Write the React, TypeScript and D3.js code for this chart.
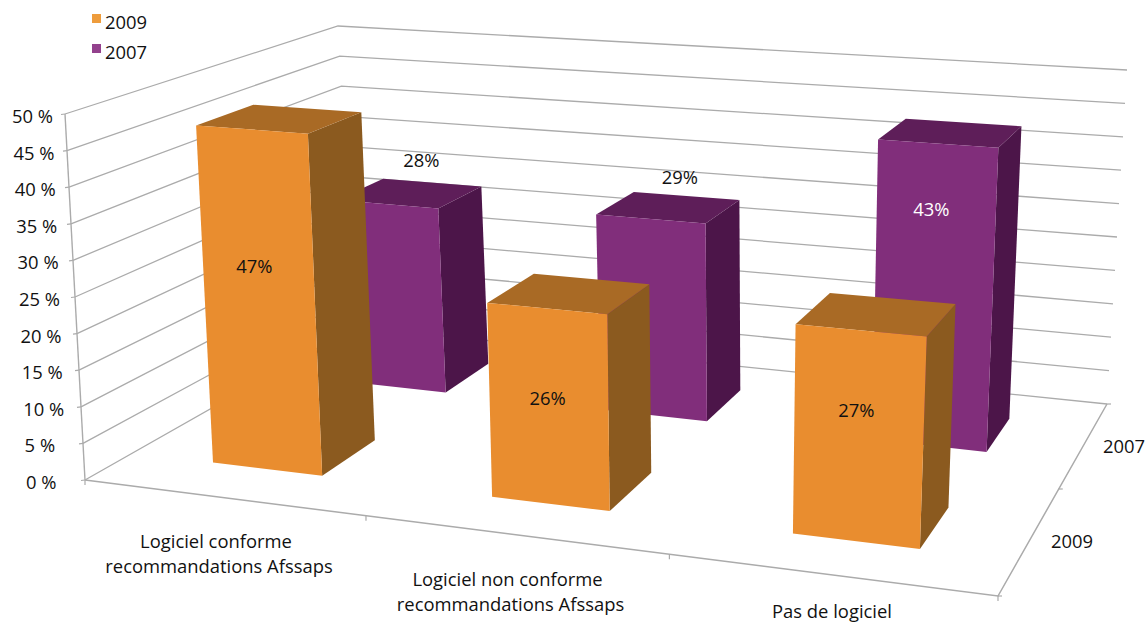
import * as d3 from "d3";

// Chart content
const categories = ["conforme", "non conforme", "aucun"];
const categoryLines = [
  ["Logiciel conforme", "recommandations Afssaps"],
  ["Logiciel non conforme", "recommandations Afssaps"],
  ["Pas de logiciel"],
];
const seriesNames = ["2009", "2007"];
const values2009 = [47, 26, 27];
const values2007 = [28, 29, 43];
const yTicks = d3.range(0, 51, 5);

// Layout of the 3D box: corners of the floor and of the plane at 50 %,
// listed front-left, front-right, back-right, back-left.
type P = [number, number];
const floorQuad: P[] = [[85, 480], [998, 596], [1107, 404], [355, 327]];
const ceilingQuad: P[] = [[65, 114], [1017, 183], [1127, 70], [338, 26]];

const seriesColors: Record<string, { front: string; top: string; side: string; key: string }> = {
  "2009": { front: "#E98D2F", top: "#A96A25", side: "#8B5A1F", key: "#EE9C3C" },
  "2007": { front: "#812E7B", top: "#5E1E59", side: "#4C1549", key: "#93418D" },
};

// Label offsets from the projected centre of each bar's front face.
const labelShift: Record<string, P[]> = {
  "2009": [[-5, -32], [-1, -7], [-2, -25]],
  "2007": [[30, -135], [28, -139], [-2, -85]],
};

// Horizontal centres and baselines of the category labels.
const categoryLabelX = [216, 507.5, 832];
const categoryLabelY = [548, 586, 618];

// Square-to-quad projective map for a unit (u, w) plane.
function homography(q: P[]) {
  const [[x0, y0], [x1, y1], [x2, y2], [x3, y3]] = q;
  const dx1 = x1 - x2, dx2 = x3 - x2, sx = x0 - x1 + x2 - x3;
  const dy1 = y1 - y2, dy2 = y3 - y2, sy = y0 - y1 + y2 - y3;
  const den = dx1 * dy2 - dx2 * dy1;
  const g = (sx * dy2 - dx2 * sy) / den;
  const h = (dx1 * sy - sx * dy1) / den;
  const a = x1 - x0 + g * x1, b = x3 - x0 + h * x3;
  const d = y1 - y0 + g * y1, e = y3 - y0 + h * y3;
  return (u: number, w: number): P => {
    const k = g * u + h * w + 1;
    return [(a * u + b * w + x0) / k, (d * u + e * w + y0) / k];
  };
}

const floorMap = homography(floorQuad);
const ceilingMap = homography(ceilingQuad);

const uScale = d3.scaleBand<string>().domain(categories).range([0, 1]).paddingInner(0.6).paddingOuter(0.3);
const wScale = d3.scaleBand<string>().domain(seriesNames).range([0, 1]).paddingInner(0.6).paddingOuter(0.3);
const vScale = d3.scaleLinear().domain([0, 50]).range([0, 1]);
const yLabelX = d3.scaleLinear().domain([0, 50]).range([26, 12]);

function project(u: number, w: number, value: number): P {
  const f = floorMap(u, w);
  const c = ceilingMap(u, w);
  const t = vScale(value);
  return [f[0] + (c[0] - f[0]) * t, f[1] + (c[1] - f[1]) * t];
}

const line = d3.line<P>();
const polygon = (pts: P[]) => line(pts) + "Z";

const GRID = "#ABABAB";
const FONT = "'Open Sans', Lato, sans-serif";

const barRows = [
  { name: "2007", values: values2007 },
  { name: "2009", values: values2009 },
];

export default function App() {
  return (
    <svg width={1147} height={623} style={{ position: "absolute", left: 0, top: 0, background: "#fff" }} fontFamily={FONT} fontSize={18.4} fill="#111">
      {/* wall grid: left wall plus back wall for every tick */}
      {yTicks.map((t) => (
        <path
          key={t}
          d={line([project(0, 0, t), project(0, 1, t), project(1, 1, t)]) ?? ""}
          fill="none"
          stroke={GRID}
          strokeWidth={1.3}
        />
      ))}

      {/* axes */}
      <path d={line([project(0, 0, 0), project(0, 0, 50)]) ?? ""} fill="none" stroke={GRID} strokeWidth={1.4} />
      <path d={line([project(0, 0, 0), project(1, 0, 0), project(1, 1, 0)]) ?? ""} fill="none" stroke={GRID} strokeWidth={1.5} />
      {yTicks.map((t) => {
        const [x, y] = project(0, 0, t);
        return <line key={t} x1={x - 4} x2={x} y1={y + 0.5} y2={y} stroke={GRID} strokeWidth={1.2} />;
      })}
      {[0, 1, 2, 3].map((i) => {
        const [x, y] = project(i / 3, 0, 0);
        return <line key={i} x1={x} x2={x} y1={y} y2={y + 5} stroke={GRID} strokeWidth={1.2} />;
      })}
      {[0, 0.5, 1].map((w) => {
        const [x, y] = project(1, w, 0);
        return <line key={w} x1={x} x2={x + 4} y1={y} y2={y} stroke={GRID} strokeWidth={1.2} />;
      })}

      {/* bars, back row first so the front row overlaps it */}
      {barRows.map((row) =>
        row.values.map((v, i) => {
          const c = seriesColors[row.name];
          const u0 = uScale(categories[i]) as number;
          const u1 = u0 + uScale.bandwidth();
          const w0 = wScale(row.name) as number;
          const w1 = w0 + wScale.bandwidth();
          const front = [project(u0, w0, 0), project(u1, w0, 0), project(u1, w0, v), project(u0, w0, v)];
          const side = [project(u1, w0, 0), project(u1, w1, 0), project(u1, w1, v), project(u1, w0, v)];
          const top = [project(u0, w0, v), project(u1, w0, v), project(u1, w1, v), project(u0, w1, v)];
          return (
            <g key={row.name + i}>
              <path d={polygon(side)} fill={c.side} />
              <path d={polygon(top)} fill={c.top} />
              <path d={polygon(front)} fill={c.front} />
            </g>
          );
        })
      )}

      {/* value labels */}
      {barRows.map((row) =>
        row.values.map((v, i) => {
          const uMid = (uScale(categories[i]) as number) + uScale.bandwidth() / 2;
          const w0 = wScale(row.name) as number;
          const [x, y] = project(uMid, w0, v / 2);
          const [dx, dy] = labelShift[row.name][i];
          return (
            <text
              key={row.name + i}
              x={x + dx}
              y={y + dy + 6}
              textAnchor="middle"
              fill={row.name === "2007" && v > 40 ? "#fff" : "#111"}
            >
              {v}%
            </text>
          );
        })
      )}

      {/* value axis labels */}
      {yTicks.map((t) => {
        const [, y] = project(0, 0, t);
        return <text key={t} x={yLabelX(t)} y={y + 9}>{t} %</text>;
      })}

      {/* category labels */}
      {categoryLines.map((lines, i) =>
        lines.map((l, k) => (
          <text
            key={i + "-" + k}
            x={categoryLabelX[i] + (k === 1 ? 3 : 0)}
            y={categoryLabelY[i] + k * 25}
            textAnchor="middle"
          >
            {l}
          </text>
        ))
      )}

      {/* depth labels */}
      <text x={1051} y={548}>{seriesNames[0]}</text>
      <text x={1103} y={453}>{seriesNames[1]}</text>

      {/* legend */}
      {seriesNames.map((s, i) => (
        <g key={s}>
          <rect x={92} y={14 + i * 30} width={9} height={9} fill={seriesColors[s].key} />
          <text x={105} y={29 + i * 30}>{s}</text>
        </g>
      ))}
    </svg>
  );
}
